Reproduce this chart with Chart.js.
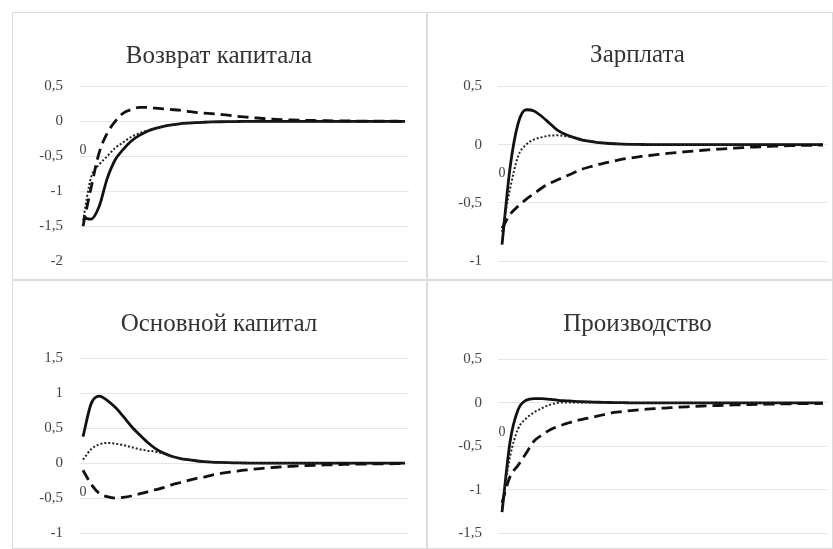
<!DOCTYPE html>
<html>
<head>
<meta charset="utf-8">
<script src="https://cdn.jsdelivr.net/npm/chart.js"></script>
<style>
  body { margin: 0; background: #fff; width: 833px; height: 549px; overflow: hidden; position: relative; }
  .panel { position: absolute; border: 1px solid #dcdcdc; box-sizing: border-box; }
  #p1 { left: 12px; top: 12px; width: 415px; height: 268px; }
  #p2 { left: 427px; top: 12px; width: 406px; height: 268px; }
  #p3 { left: 12px; top: 280px; width: 415px; height: 269px; }
  #p4 { left: 427px; top: 280px; width: 406px; height: 269px; }
</style>
</head>
<body>
<div class="panel" id="p1"><canvas id="c1"></canvas></div>
<div class="panel" id="p2"><canvas id="c2"></canvas></div>
<div class="panel" id="p3"><canvas id="c3"></canvas></div>
<div class="panel" id="p4"><canvas id="c4"></canvas></div>
<script>
// periods (x-axis categories)
const periods = ['0','1','2','3','4','5','6','7','8','9',
  '10','11','12','13','14','15','16','17','18','19',
  '20','21','22','23','24','25','26','27','28','29',
  '30','31','32','33','34','35','36','37','38','39','40'];

// Возврат капитала
const returnSolid = [-1.38, -1.4, -1.22, -0.82, -0.55, -0.4, -0.28, -0.2, -0.14, -0.1,
  -0.07, -0.05, -0.035, -0.025, -0.017, -0.012, -0.008, -0.005, -0.003, -0.002,
  -0.001, -0.001, 0, 0, 0, 0, 0, 0, 0, 0,
  0, 0, 0, 0, 0, 0, 0, 0, 0, 0, 0];
const returnDotted = [-1.42, -0.8, -0.62, -0.5, -0.38, -0.3, -0.22, -0.17, -0.13, -0.1,
  -0.07, -0.05, -0.035, -0.025, -0.017, -0.012, -0.008, -0.005, -0.003, -0.002,
  -0.001, -0.001, 0, 0, 0, 0, 0, 0, 0, 0,
  0, 0, 0, 0, 0, 0, 0, 0, 0, 0, 0];
const returnDashed = [-1.5, -0.95, -0.45, -0.17, 0.0, 0.12, 0.17, 0.2, 0.2, 0.19,
  0.18, 0.17, 0.16, 0.145, 0.13, 0.12, 0.11, 0.1, 0.09, 0.075,
  0.065, 0.055, 0.045, 0.035, 0.03, 0.025, 0.02, 0.017, 0.014, 0.012,
  0.01, 0.008, 0.007, 0.006, 0.005, 0.004, 0.003, 0.003, 0.002, 0.002, 0.001];

// Зарплата
const wageSolid = [-0.86, -0.2, 0.18, 0.3, 0.29, 0.24, 0.18, 0.12, 0.085, 0.06,
  0.04, 0.028, 0.018, 0.012, 0.008, 0.005, 0.003, 0.002, 0.001, 0,
  0, 0, 0, 0, 0, 0, 0, 0, 0, 0,
  0, 0, 0, 0, 0, 0, 0, 0, 0, 0, 0];
const wageDotted = [-0.75, -0.38, -0.1, 0.0, 0.045, 0.065, 0.078, 0.08, 0.072, 0.06,
  0.045, 0.032, 0.02, 0.013, 0.008, 0.005, 0.003, 0.002, 0.001, 0,
  0, 0, 0, 0, 0, 0, 0, 0, 0, 0,
  0, 0, 0, 0, 0, 0, 0, 0, 0, 0, 0];
const wageDashed = [-0.72, -0.6, -0.53, -0.47, -0.42, -0.37, -0.33, -0.3, -0.27, -0.24,
  -0.21, -0.19, -0.17, -0.155, -0.14, -0.125, -0.115, -0.105, -0.095, -0.088,
  -0.08, -0.073, -0.066, -0.06, -0.054, -0.048, -0.043, -0.038, -0.034, -0.03,
  -0.026, -0.022, -0.019, -0.016, -0.013, -0.011, -0.009, -0.007, -0.006, -0.005, -0.004];

// Основной капитал
const capitalSolid = [0.38, 0.85, 0.96, 0.9, 0.8, 0.67, 0.53, 0.41, 0.3, 0.21,
  0.145, 0.1, 0.07, 0.05, 0.035, 0.024, 0.016, 0.011, 0.007, 0.005,
  0.003, 0.002, 0.001, 0, 0, 0, 0, 0, 0, 0,
  0, 0, 0, 0, 0, 0, 0, 0, 0, 0, 0];
const capitalDotted = [0.05, 0.2, 0.27, 0.29, 0.28, 0.26, 0.23, 0.2, 0.18, 0.165,
  0.135, 0.1, 0.07, 0.05, 0.035, 0.024, 0.016, 0.011, 0.007, 0.005,
  0.003, 0.002, 0.001, 0, 0, 0, 0, 0, 0, 0,
  0, 0, 0, 0, 0, 0, 0, 0, 0, 0, 0];
const capitalDashed = [-0.1, -0.3, -0.43, -0.48, -0.5, -0.49, -0.47, -0.44, -0.41, -0.38,
  -0.35, -0.31, -0.28, -0.25, -0.22, -0.2, -0.17, -0.15, -0.13, -0.115,
  -0.1, -0.088, -0.077, -0.067, -0.058, -0.05, -0.044, -0.038, -0.033, -0.029,
  -0.025, -0.022, -0.019, -0.016, -0.014, -0.012, -0.01, -0.009, -0.008, -0.007, -0.006];

// Производство
const outputSolid = [-1.26, -0.45, -0.08, 0.03, 0.05, 0.05, 0.04, 0.03, 0.024, 0.018,
  0.013, 0.01, 0.007, 0.005, 0.003, 0.002, 0.001, 0, 0, 0,
  0, 0, 0, 0, 0, 0, 0, 0, 0, 0,
  0, 0, 0, 0, 0, 0, 0, 0, 0, 0, 0];
const outputDotted = [-1.2, -0.62, -0.3, -0.18, -0.11, -0.06, -0.02, 0.0, 0.005, 0.005,
  0.005, 0.004, 0.003, 0.002, 0.001, 0, 0, 0, 0, 0,
  0, 0, 0, 0, 0, 0, 0, 0, 0, 0,
  0, 0, 0, 0, 0, 0, 0, 0, 0, 0, 0];
const outputDashed = [-1.15, -0.85, -0.72, -0.58, -0.44, -0.37, -0.31, -0.27, -0.24, -0.21,
  -0.19, -0.17, -0.15, -0.13, -0.11, -0.1, -0.09, -0.08, -0.073, -0.067,
  -0.06, -0.055, -0.05, -0.045, -0.04, -0.036, -0.033, -0.03, -0.027, -0.024,
  -0.021, -0.019, -0.017, -0.015, -0.013, -0.011, -0.01, -0.009, -0.008, -0.007, -0.006];

const serif = '"Liberation Serif", "Times New Roman", serif';

// the stray "0" category label that sits under the zero line at the first period
const zeroLabel = {
  id: 'zeroLabel',
  afterDraw(chart) {
    const c = chart.ctx;
    const x = chart.scales.x.getPixelForValue(0);
    const y = chart.scales.y.getPixelForValue(0) + 29;
    c.save();
    c.font = '14px ' + serif;
    c.fillStyle = '#444';
    c.textAlign = 'center';
    c.textBaseline = 'middle';
    c.fillText(periods[0], x, y);
    c.restore();
  }
};

function makeChart(id, title, solid, dotted, dashed, yMin, yMax, pad, titlePad) {
  const ctx = document.getElementById(id).getContext('2d');
  return new Chart(ctx, {
    type: 'line',
    data: {
      labels: periods,
      datasets: [
        { data: dashed, borderColor: '#111', borderWidth: 2.8, borderDash: [11, 6] },
        { data: dotted, borderColor: '#222', borderWidth: 2, borderDash: [2, 2] },
        { data: solid, borderColor: '#111', borderWidth: 2.8 }
      ]
    },
    options: {
      responsive: true,
      maintainAspectRatio: false,
      animation: false,
      elements: {
        point: { radius: 0 },
        line: { cubicInterpolationMode: 'monotone', fill: false }
      },
      layout: { padding: pad },
      plugins: {
        legend: { display: false },
        tooltip: { enabled: false },
        title: {
          display: true,
          text: title,
          color: '#333',
          font: { family: serif, size: 25, weight: 'normal' },
          padding: titlePad
        }
      },
      scales: {
        x: {
          display: false,
          offset: true
        },
        y: {
          min: yMin,
          max: yMax,
          // fixed axis width; let the layout padding decide the plot edges
          afterFit: s => { s.width = 50; s.paddingTop = 0; s.paddingBottom = 0; },
          grid: { color: '#e6e6e6', drawTicks: false },
          border: { display: false },
          ticks: {
            stepSize: 0.5,
            padding: 16,
            color: '#444',
            font: { family: serif, size: 15 },
            callback: v => String(Math.round(v * 10) / 10).replace('.', ',')
          }
        }
      }
    },
    plugins: [zeroLabel]
  });
}

makeChart('c1', 'Возврат капитала', returnSolid, returnDotted, returnDashed, -2, 0.5,
  { left: 16, right: 17, top: 0, bottom: 18 }, { top: 28.5, bottom: 15 });
makeChart('c2', 'Зарплата', wageSolid, wageDotted, wageDashed, -1, 0.5,
  { left: 20, right: 5, top: 0, bottom: 18 }, { top: 27.5, bottom: 16 });
makeChart('c3', 'Основной капитал', capitalSolid, capitalDotted, capitalDashed, -1, 1.5,
  { left: 16, right: 17, top: 0, bottom: 15 }, { top: 28, bottom: 19.5 });
makeChart('c4', 'Производство', outputSolid, outputDotted, outputDashed, -1.5, 0.5,
  { left: 20, right: 5, top: 0, bottom: 15 }, { top: 28.5, bottom: 20 });
</script>
</body>
</html>
